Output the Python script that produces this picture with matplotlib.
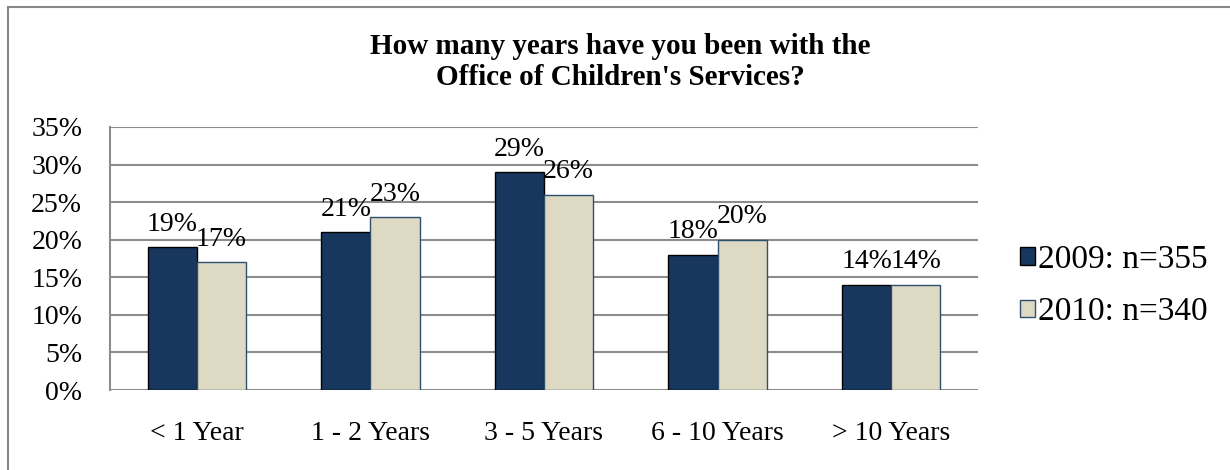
import matplotlib.pyplot as plt
import numpy as np
from matplotlib.patches import Rectangle

plt.rcParams["font.family"] = ["Liberation Serif", "DejaVu Serif"]

categories = ["< 1 Year", "1 - 2 Years", "3 - 5 Years", "6 - 10 Years", "> 10 Years"]
values_2009 = [19, 21, 29, 18, 14]
values_2010 = [17, 23, 26, 20, 14]
series_names = ["2009: n=355", "2010: n=340"]

dark = "#17375E"
light = "#DDD9C3"

fig = plt.figure(figsize=(12.3, 4.7), dpi=100)
fig.patches.append(Rectangle((8 / 1230, -0.1), 1.2, 1 - 7 / 470 + 0.1,
                             transform=fig.transFigure, fill=False,
                             edgecolor="#888888", linewidth=1.5))

ax = fig.add_axes([110 / 1230, 1 - 390 / 470, 868 / 1230, 263 / 470])

x = np.arange(len(categories))
w = 0.283
b1 = ax.bar(x - w / 2, values_2009, w, color=dark, edgecolor="black",
            linewidth=1, label=series_names[0], zorder=3)
b2 = ax.bar(x + w / 2, values_2010, w, color=light, edgecolor="#2F4F6F",
            linewidth=1, label=series_names[1], zorder=3)

for bars in (b1, b2):
    for rect in bars:
        h = rect.get_height()
        ax.text(rect.get_x() + rect.get_width() / 2, h + 1.4, f"{h:.0f}%",
                ha="center", va="bottom", fontsize=20)

ax.set_xlim(-0.5, len(categories) - 0.5)
ax.set_ylim(0, 35)
ax.set_yticks(range(0, 36, 5))
ax.set_yticklabels([f"{v}%" for v in range(0, 36, 5)], fontsize=20)
ax.set_xticks(x)
ax.set_xticklabels(categories, fontsize=20)
ax.tick_params(axis="both", length=0)
ax.tick_params(axis="x", pad=22)
ax.tick_params(axis="y", pad=20)

ax.grid(axis="y", color="#8C8C8C", linewidth=1.5, zorder=0)
for side in ("top", "right", "bottom"):
    ax.spines[side].set_visible(False)
ax.spines["left"].set_color("#8C8C8C")
ax.spines["left"].set_linewidth(1.5)

fig.text(0.504, 1 - 62 / 470, "How many years have you been with the\nOffice of Children's Services?",
         ha="center", va="center", fontsize=21, fontweight="bold", linespacing=1.2)

fig.legend(loc="center left", bbox_to_anchor=(990 / 1230, 1 - 286 / 470),
           frameon=False, fontsize=24, handlelength=0.45, handleheight=0.45,
           handletextpad=0.1, labelspacing=0.65)

plt.savefig("out.png", dpi=100)
